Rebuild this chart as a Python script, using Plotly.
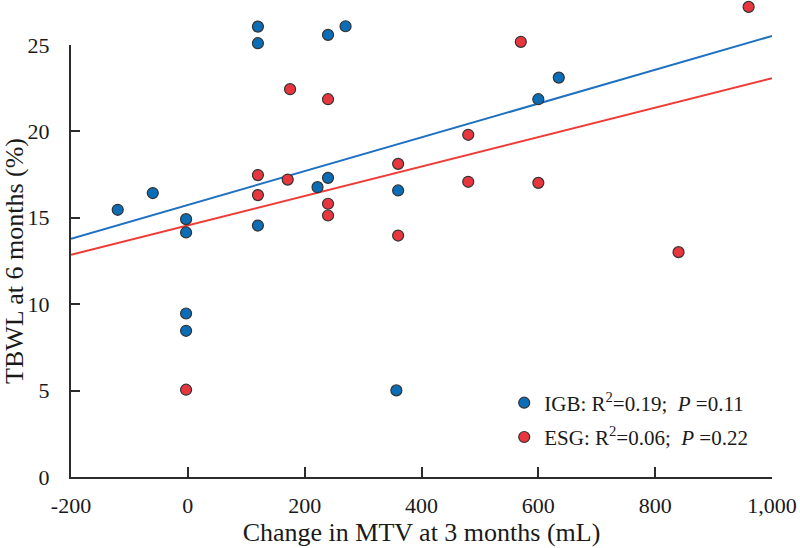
import plotly.graph_objects as go

# ---- data ----
igb_x = [-120, -60, -3, -3, -3, -3, 120, 120, 120, 240, 270, 222, 240, 360, 357, 600, 635]
igb_y = [15.46, 16.43, 14.92, 14.15, 9.46, 8.46, 26.06, 25.1, 14.55, 25.58, 26.08, 16.77, 17.31, 16.58, 5.01, 21.86, 23.11]

esg_x = [-3, 120, 120, 175, 171, 240, 240, 240, 360, 360, 480, 480, 600, 570, 840, 960]
esg_y = [5.05, 17.47, 16.31, 22.44, 17.21, 21.86, 15.81, 15.13, 18.12, 13.97, 19.80, 17.08, 17.02, 25.18, 13.01, 27.2]

# regression lines: [intercept, slope]
igb_fit = [15.74, 0.00978]
esg_fit = [14.56, 0.00851]
fit_x = [-200, 1000]

x_ticks = [-200, 0, 200, 400, 600, 800, 1000]
x_tick_labels = ["-200", "0", "200", "400", "600", "800", "1,000"]
y_ticks = [0, 5, 10, 15, 20, 25]
y_axis_max = 25      # drawn y axis ends here
y_view_max = 27.6    # data area extends above the axis end

igb_name = "IGB: R<sup>2</sup>=0.19;  <i>P</i> =0.11"
esg_name = "ESG: R<sup>2</sup>=0.06;  <i>P</i> =0.22"

BLUE = "#0a6db6"
RED = "#e8363f"
BLUE_LINE = "#1f70c1"
RED_LINE = "#ee3b36"
AX = "#2b2b2b"
FONT = "Liberation Serif"

fig = go.Figure()

fig.add_trace(go.Scatter(x=fit_x, y=[igb_fit[0] + igb_fit[1] * v for v in fit_x],
                         mode="lines", line=dict(color=BLUE_LINE, width=2),
                         showlegend=False, hoverinfo="skip"))
fig.add_trace(go.Scatter(x=fit_x, y=[esg_fit[0] + esg_fit[1] * v for v in fit_x],
                         mode="lines", line=dict(color=RED_LINE, width=2),
                         showlegend=False, hoverinfo="skip"))

fig.add_trace(go.Scatter(x=igb_x, y=igb_y, mode="markers", name=igb_name,
                         legendgroup="igb", cliponaxis=False,
                         marker=dict(color=BLUE, size=11, line=dict(color="#333333", width=1.2))))
fig.add_trace(go.Scatter(x=esg_x, y=esg_y, mode="markers", name=esg_name,
                         legendgroup="esg", cliponaxis=False,
                         marker=dict(color=RED, size=11, line=dict(color="#333333", width=1.2))))

# empty trace so the visible y axis (y2) gets drawn
fig.add_trace(go.Scatter(x=[], y=[], yaxis="y2", showlegend=False, hoverinfo="skip"))

fig.update_layout(
    template="none",
    width=800, height=548,
    margin=dict(l=71, r=28, t=0, b=71, autoexpand=False),
    paper_bgcolor="white", plot_bgcolor="rgba(0,0,0,0)",
    font=dict(family=FONT, size=22, color="#1a1a1a"),
    showlegend=True,
    legend=dict(x=0.618, y=0.198, xanchor="left", yanchor="top",
                bgcolor="rgba(0,0,0,0)", font=dict(size=21, family=FONT),
                traceorder="grouped", tracegroupgap=4, itemwidth=30),
    xaxis=dict(range=[-200, 1000], tickvals=x_ticks, ticktext=x_tick_labels,
               anchor="y2", automargin=False, layer="above traces",
               showgrid=False, zeroline=False, showline=True, linecolor=AX, linewidth=2,
               ticks="inside", ticklen=10, tickwidth=2, tickcolor=AX,
               tickfont=dict(size=22), ticklabelstandoff=8,
               title=dict(text="Change in MTV at 3 months (mL)", font=dict(size=26), standoff=1)),
    yaxis=dict(range=[0, y_view_max], visible=False, showgrid=False, zeroline=False,
               automargin=False),
    yaxis2=dict(range=[0, y_axis_max], domain=[0, y_axis_max / y_view_max], anchor="x",
                automargin=False, layer="above traces",
                tickvals=y_ticks,
                showgrid=False, zeroline=False, showline=True, linecolor=AX, linewidth=2,
                ticks="inside", ticklen=9, tickwidth=2, tickcolor=AX,
                tickfont=dict(size=22), ticklabelstandoff=15,
                title=dict(text="TBWL at 6 months (%)", font=dict(size=26), standoff=10)),
)

fig.write_html("out.html", config={"displayModeBar": False},
               post_script="document.body.style.margin='0';document.body.style.overflow='hidden';")
